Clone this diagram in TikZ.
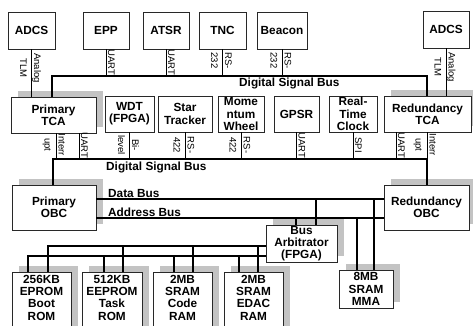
\documentclass[tikz,border=0pt]{standalone}
\usepackage{fontspec}
\setmainfont{Liberation Sans}
\usetikzlibrary{shadows}
\definecolor{shd}{RGB}{195,195,195}
\definecolor{edge}{RGB}{40,40,40}
\tikzset{
  box/.style={draw=edge, line width=0.8pt, fill=white, align=center, inner sep=0pt,
    font=\fontsize{11.8}{12.3}\selectfont\bfseries},
  sbox/.style={box, drop shadow={shadow xshift=6.5pt, shadow yshift=6pt, fill=shd, opacity=1}},
  memtxt/.style={align=center, inner sep=0pt, font=\fontsize{11.8}{12.3}\selectfont\bfseries},
  lbl/.style={rotate=-90, anchor=base, inner sep=0pt, font=\fontsize{9.5}{11}\selectfont},
  buslbl/.style={anchor=base west, inner sep=0pt, font=\fontsize{11.8}{14}\selectfont\bfseries},
  bus/.style={line width=2pt},
  dbus/.style={line width=1.4pt},
  conn/.style={line width=1pt}
}
\begin{document}
\begin{tikzpicture}[x=1pt,y=-1pt]
\useasboundingbox (0,0) rectangle (473,325);
\clip (0,0) rectangle (473,325);
\fill[white] (0,0) rectangle (473,325);

% top row
\node[box, minimum width=47pt, minimum height=37pt] (adcsL) at (31.5,30.5) {ADCS};
\node[box, minimum width=46pt, minimum height=37pt] (epp) at (106,30.5) {EPP};
\node[box, minimum width=46pt, minimum height=37pt] (atsr) at (166,30.5) {ATSR};
\node[box, minimum width=47pt, minimum height=37pt] (tnc) at (222.5,30.5) {TNC};
\node[box, minimum width=50pt, minimum height=37pt] (beacon) at (282,30.5) {Beacon};
\node[box, minimum width=46pt, minimum height=37pt] (adcsR) at (446,29.5) {ADCS};

% middle row
\node[sbox, minimum width=85pt, minimum height=36pt] (ptca) at (53.5,115) {Primary\\TCA};
\node[box, minimum width=49pt, minimum height=36pt] (wdt) at (129.5,114) {WDT\\(FPGA)};
\node[box, minimum width=54pt, minimum height=36pt] (star) at (185,114) {Star\\Tracker};
\node[box, minimum width=46pt, minimum height=36pt] (mom) at (241,114) {Mome\\ntum\\Wheel};
\node[box, minimum width=45pt, minimum height=36pt] (gpsr) at (296.5,114) {GPSR};
\node[box, minimum width=48pt, minimum height=36pt] (rtc) at (353,114) {Real-\\Time\\Clock};
\node[sbox, minimum width=87pt, minimum height=36pt] (rtca) at (427.5,114) {Redundancy\\TCA};

% OBCs
\node[sbox, minimum width=84pt, minimum height=45pt] (pobc) at (54,207.5) {Primary\\OBC};
\node[sbox, minimum width=85pt, minimum height=45pt] (robc) at (426.5,207.5) {Redundancy\\OBC};
\node[sbox, minimum width=71pt, minimum height=37pt] (arb) at (301.5,243.5) {Bus\\Arbitrator\\(FPGA)};
\node[sbox, minimum width=54pt, minimum height=38pt] (mma) at (366,289) {8MB\\SRAM\\MMA};

% memories
\node[sbox, minimum width=59pt, minimum height=62pt, anchor=north] (m1) at (41.5,272) {};
\node[memtxt] (m1t) at (41.5,297.5) {256KB\\EPROM\\Boot\\ROM};
\node[sbox, minimum width=60pt, minimum height=62pt, anchor=north] (m2) at (112,272) {};
\node[memtxt] (m2t) at (112,297.5) {512KB\\EEPROM\\Task\\ROM};
\node[sbox, minimum width=59pt, minimum height=62pt, anchor=north] (m3) at (182.5,272) {};
\node[memtxt] (m3t) at (182.5,297.5) {2MB\\SRAM\\Code\\RAM};
\node[sbox, minimum width=59pt, minimum height=62pt, anchor=north] (m4) at (253.5,272) {};
\node[memtxt] (m4t) at (253.5,297.5) {2MB\\SRAM\\EDAC\\RAM};

% bus coordinates
\coordinate (tbL) at (52,75.5);
\coordinate (tbR) at (427,75.5);
\coordinate (lbL) at (53,158.5);
\coordinate (lbR) at (427,158.5);

% top digital signal bus
\draw[bus] (ptca.north -| tbL) -- (tbL) -- (tbR) -- (rtca.north -| tbR);
\node[buslbl] (dsb1) at (239,86) {Digital Signal Bus};
% lower digital signal bus
\draw[bus] (pobc.north -| lbL) -- (lbL) -- (lbR) -- (robc.north -| lbR);
\node[buslbl] (dsb2) at (106,170) {Digital Signal Bus};

% top connectors
\draw[conn] (adcsL.south) -- (ptca.north -| adcsL.south);
\draw[conn] (epp.south) -- (epp.south |- tbL);
\draw[conn] (atsr.south) -- (atsr.south |- tbL);
\draw[conn] (tnc.south) -- (tnc.south |- tbL);
\draw[conn] (beacon.south) -- (beacon.south |- tbL);
\draw[conn] (adcsR.south) -- (rtca.north -| adcsR.south);

\node[lbl] (l1a) at (34,68) {Analog};
\node[lbl] (l1b) at (20,68) {TLM};
\node[lbl] (l2) at (108,62) {UART};
\node[lbl] (l3) at (168,62) {UART};
\node[lbl] (l4a) at (225,60.5) {RS-};
\node[lbl] (l4b) at (211,60.5) {232};
\node[lbl] (l5a) at (284.5,60.5) {RS-};
\node[lbl] (l5b) at (270.5,60.5) {232};
\node[lbl] (l6a) at (448.5,67) {Analog};
\node[lbl] (l6b) at (434.5,67) {TLM};

% lower connectors
\draw[conn] (ptca.south -| 56,0) -- (56,158.5);
\draw[conn] (ptca.south -| 79,0) -- (79,158.5);
\draw[conn] (wdt.south) -- (wdt.south |- lbL);
\draw[conn] (star.south) -- (star.south |- lbL);
\draw[conn] (mom.south) -- (mom.south |- lbL);
\draw[conn] (gpsr.south) -- (gpsr.south |- lbL);
\draw[conn] (rtc.south) -- (rtc.south |- lbL);
\draw[conn] (rtca.south -| 396,0) -- (396,158.5);
\draw[conn] (rtca.south -| lbR) -- (lbR);

\node[lbl] (b1a) at (58.5,145) {Interr};
\node[lbl] (b1b) at (44.5,145) {upt};
\node[lbl] (b2) at (81,145) {UART};
\node[lbl] (b3a) at (132,145) {Bi-};
\node[lbl] (b3b) at (118,145) {level};
\node[lbl] (b4a) at (187.5,145) {RS-};
\node[lbl] (b4b) at (173.5,145) {422};
\node[lbl] (b5a) at (243.5,145) {RS-};
\node[lbl] (b5b) at (229.5,145) {422};
\node[lbl] (b6) at (298.5,145) {UART};
\node[lbl] (b7) at (355,145) {SPI};
\node[lbl] (b8) at (398,145) {UART};
\node[lbl] (b9a) at (429.5,145) {Interr};
\node[lbl] (b9b) at (415.5,145) {upt};

% data and address buses
\draw[dbus] (pobc.east |- 0,199) -- (robc.west |- 0,199);
\draw[dbus] (pobc.east |- 0,218) -- (robc.west |- 0,218);
\node[buslbl] (dbl) at (108,197) {Data Bus};
\node[buslbl] (abl) at (108,216.5) {Address Bus};

\draw[dbus] (296,218) -- (arb.north -| 296,0);
\draw[dbus] (316,199) -- (arb.north -| 316,0);
\draw[dbus] (357,218) -- (mma.north -| 357,0);
\draw[dbus] (374,199) -- (mma.north -| 374,0);

% memory interconnect
\draw[dbus] (arb.west |- 0,246) -- (48,246) -- (m1.north -| 48,0);
\draw[dbus] (123,246) -- (m2.north -| 123,0);
\draw[dbus] (193,246) -- (m3.north -| 193,0);
\draw[dbus] (258,246) -- (m4.north -| 258,0);
\draw[dbus] (arb.west |- 0,256) -- (28,256) -- (m1.north -| 28,0);
\draw[dbus] (104,256) -- (m2.north -| 104,0);
\draw[dbus] (174,256) -- (m3.north -| 174,0);
\draw[dbus] (239,256) -- (m4.north -| 239,0);
\end{tikzpicture}
\end{document}
